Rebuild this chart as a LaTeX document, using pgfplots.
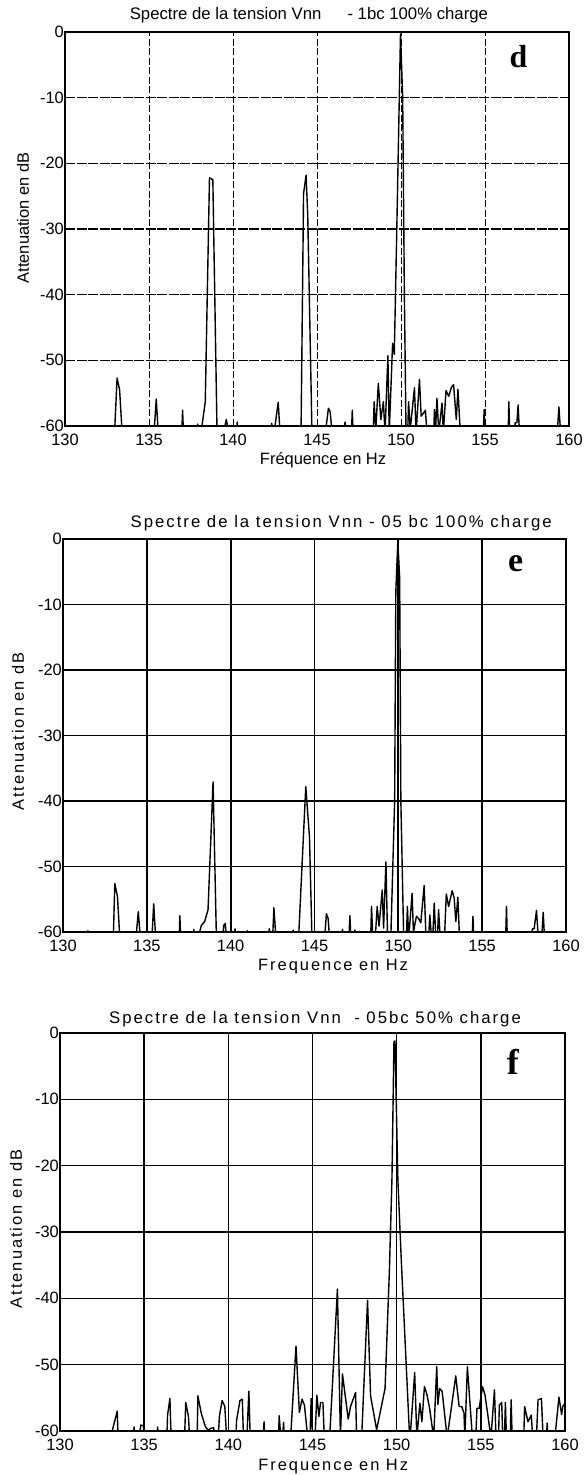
\documentclass[border=0pt]{standalone}
\usepackage{fontspec}
\setmainfont{Liberation Sans}
\newfontfamily\spaced[LetterSpace=12]{Liberation Sans}
\newfontfamily\timesf{Liberation Serif}
\usepackage{pgfplots}
\pgfplotsset{compat=1.18}

\pgfplotsset{
  spec/.style={
    scale only axis, xmin=130, xmax=160, ymin=-60, ymax=0,
    xtick={130,135,140,145,150,155,160}, ytick={-60,-50,-40,-30,-20,-10,0},
    xticklabels={130,135,140,145,150,155,160},
    yticklabels={-60,-50,-40,-30,-20,-10,0},
    major tick length=0pt,
    xmajorgrids, ymajorgrids,
    every axis title shift=0pt,
    tick label style={font=\fontsize{16.5}{18}\selectfont},
    xticklabel style={anchor=center, yshift=-14bp},
    yticklabel style={anchor=east, inner sep=1bp},
    title style={anchor=center},
    xlabel style={anchor=center},
    ylabel style={anchor=center, rotate=0},
  },
  sig/.style={black, line width=1.4bp, line join=round},
}

\begin{document}
\begin{tikzpicture}
\useasboundingbox (0,0) rectangle (586bp,1475bp);

% ---------------- panel d ----------------
\begin{axis}[spec,
  at={(65bp,1049bp)}, anchor=south west, width=504bp, height=394bp,
  axis line style={black, line width=1.5bp},
  x grid style={black, line width=0.7bp, dash pattern=on 7bp off 2.5bp},
  y grid style={black, line width=1.2bp, dash pattern=on 10bp off 1.5bp},
  title={Spectre de la tension Vnn \quad\ - 1bc 100\% charge},
  title style={font=\fontsize{16.8}{18}\selectfont, at={(axis description cs:0.484,1.043)}},
  xlabel={Fréquence en Hz},
  xlabel style={font=\fontsize{16.5}{18}\selectfont, at={(axis description cs:0.512,-0.086)}},
  ylabel={Attenuation en dB},
  ylabel style={font=\fontsize{16.5}{18}\selectfont, at={(axis description cs:-0.0833,0.528)}},
]
\addplot[sig] coordinates {
(130,-61)
(132.95,-61)(133.1,-52.7)(133.25,-54.5)(133.4,-61)
(135.3,-61)(135.43,-55.9)(135.55,-61)
(136.95,-61)(137.0,-57.6)(137.05,-61)
(137.85,-61)(137.9,-59.7)(137.95,-61)
(138.1,-61)(138.35,-56.3)(138.6,-22.2)(138.8,-22.5)(139.05,-61)
(139.45,-61)(139.6,-59)(139.75,-61)
(140.2,-61)(140.25,-59.4)(140.3,-61)
(142.25,-61)(142.3,-59.6)(142.45,-61)(142.69,-56.4)(142.8,-61)
(144.05,-61)(144.2,-24.6)(144.35,-21.8)(144.45,-28)(144.7,-61)
(145.5,-61)(145.68,-57.3)(145.78,-57.8)(145.9,-61)
(146.6,-61)(146.67,-59.4)(146.75,-61)
(147.05,-61)(147.1,-57.6)(147.15,-61)
(148.35,-61)(148.4,-56.3)(148.5,-60.5)(148.65,-53.5)(148.8,-59)(148.95,-56.3)(149.05,-61)
(149.22,-49.3)(149.3,-61)(149.5,-47.4)(149.6,-49.1)(149.75,-30)(149.97,-0.3)(150.1,-10)(150.2,-40)(150.3,-61)
(150.4,-61)(150.45,-56.3)(150.55,-60.5)(150.8,-54.2)(150.9,-61)(151.1,-52.9)(151.2,-58.5)(151.35,-58)(151.45,-57.6)(151.55,-61)
(151.95,-61)(151.99,-57.5)(152.05,-61)(152.14,-55.8)(152.25,-61)(152.44,-56.5)(152.52,-61)
(152.68,-54.6)(152.84,-55.5)(153.0,-54.1)(153.13,-53.7)(153.29,-59)(153.39,-54.4)(153.53,-61)
(154.9,-61)(154.95,-57.5)(155.0,-61)
(156.38,-61)(156.42,-56.3)(156.47,-61)
(156.75,-61)(156.8,-59.5)(156.9,-59.5)(156.97,-56.8)(157.05,-61)
(159.3,-61)(159.4,-57.1)(159.5,-61)(160,-61)
};
\node[font=\timesf\bfseries\fontsize{32}{32}\selectfont] at (axis cs:157,-3.8) {d};
\end{axis}

% ---------------- panel e ----------------
\begin{axis}[spec,
  at={(63bp,543bp)}, anchor=south west, width=503bp, height=393bp,
  axis line style={black, line width=2bp},
  grid style={black, line width=1.8bp},
  title={\spaced Spectre de la tension Vnn - 05 bc 100\% charge},
  title style={font=\fontsize{16.8}{18}\selectfont, at={(axis description cs:0.553,1.041)}},
  xlabel={\spaced Frequence en Hz},
  xlabel style={font=\fontsize{16.5}{18}\selectfont, at={(axis description cs:0.537,-0.089)}},
  ylabel={\spaced Attenuation en dB},
  ylabel style={font=\fontsize{16.5}{18}\selectfont, at={(axis description cs:-0.0895,0.51)}},
]
\addplot[sig] coordinates {
(130,-61)(131.45,-61)(131.48,-59.8)(131.52,-61)
(133.0,-61)(133.09,-52.6)(133.25,-54.6)(133.39,-61)
(134.35,-61)(134.49,-56.9)(134.62,-61)
(135.3,-61)(135.41,-55.7)(135.53,-61)
(136.93,-61)(136.97,-57.5)(137.02,-61)
(137.78,-61)(137.8,-59.6)(137.85,-61)
(138.05,-61)(138.25,-59)(138.45,-58.4)(138.65,-56.6)(138.95,-37.1)(139.15,-61)
(139.5,-61)(139.6,-58.9)(139.68,-58.7)(139.75,-61)
(140.22,-61)(140.26,-59.5)(140.3,-61)
(140.97,-61)(141.0,-59.8)(141.03,-61)
(142.27,-61)(142.3,-59.5)(142.4,-61)(142.5,-61)(142.58,-56.3)(142.7,-61)
(143.7,-61)(143.73,-59.7)(143.76,-61)
(144.05,-61)(144.48,-37.8)(144.7,-45.5)(144.85,-61)
(145.6,-61)(145.71,-57.2)(145.81,-57.9)(145.9,-61)
(146.62,-61)(146.67,-59.6)(146.72,-61)
(147.05,-61)(147.11,-57.5)(147.17,-61)
(147.38,-61)(147.41,-59.7)(147.45,-61)
(148.35,-61)(148.4,-56.1)(148.48,-61)(148.62,-61)(148.74,-56.1)(148.85,-59.1)(149.04,-53.6)(149.12,-59.4)(149.26,-49.3)(149.36,-61)
(149.55,-61)(149.78,-40)(149.85,-8)(149.97,-0.3)(150.08,-6)(150.15,-40)(150.32,-61)
(150.48,-61)(150.54,-56.1)(150.62,-61)(150.82,-54.1)(150.9,-60)(151.08,-57.6)(151.22,-58)(151.34,-58.6)(151.54,-52.9)(151.65,-61)
(151.8,-61)(151.88,-57.4)(151.98,-61)(152.05,-61)(152.14,-55.6)(152.24,-61)(152.33,-61)(152.4,-56.6)(152.5,-61)
(152.75,-61)(152.86,-54.2)(153.0,-56.1)(153.21,-53.7)(153.33,-54.8)(153.43,-58.4)(153.55,-54.7)(153.65,-61)
(154.4,-61)(154.45,-57.6)(154.5,-61)
(156.4,-61)(156.45,-56.1)(156.5,-61)
(157.9,-61)(158.0,-59.5)(158.1,-59.5)(158.24,-56.7)(158.35,-61)(158.55,-61)(158.64,-57.0)(158.72,-61)(160,-61)
};
\node[font=\timesf\bfseries\fontsize{34}{34}\selectfont] at (axis cs:157,-3.7) {e};
\end{axis}

% ---------------- panel f ----------------
\begin{axis}[spec,
  at={(60bp,44bp)}, anchor=south west, width=505bp, height=398bp,
  axis line style={black, line width=2bp},
  grid style={black, line width=1.5bp},
  title={\spaced Spectre de la tension Vnn \ - 05bc 50\% charge},
  title style={font=\fontsize{16.8}{18}\selectfont, at={(axis description cs:0.505,1.035)}},
  xlabel={\spaced Frequence en Hz},
  xlabel style={font=\fontsize{16.5}{18}\selectfont, at={(axis description cs:0.541,-0.0905)}},
  ylabel={\spaced Attenuation en dB},
  ylabel style={font=\fontsize{16.5}{18}\selectfont, at={(axis description cs:-0.087,0.5075)}},
]
\addplot[sig] coordinates {
(130,-61)(133.0,-61)(133.4,-57)(133.45,-61)
(134.35,-61)(134.4,-59.4)(134.45,-61)(134.7,-61)(134.8,-59.1)(134.95,-59.2)(135.0,-61)
(135.75,-61)(135.8,-59.4)(135.85,-61)
(136.35,-61)(136.39,-57.6)(136.53,-55.1)(136.6,-61)
(137.4,-61)(137.47,-55.7)(137.63,-57.8)(137.7,-61)
(138.15,-61)(138.19,-54.7)(138.39,-57.3)(138.63,-59.3)(138.8,-59.9)(138.95,-59.6)(139.13,-59.5)(139.2,-61)
(139.4,-61)(139.47,-57.8)(139.63,-55.4)(139.79,-56.3)(139.9,-61)
(140.45,-61)(140.49,-58.4)(140.69,-55.4)(140.83,-55.2)(140.9,-61)(141.1,-61)(141.22,-54.0)(141.3,-61)
(142.08,-61)(142.12,-58.6)(142.16,-61)
(142.98,-61)(143.02,-57.7)(143.12,-61)(143.22,-61)(143.28,-58.7)(143.33,-61)
(143.7,-61)(144.02,-47.2)(144.22,-57.2)(144.38,-55.2)(144.52,-56.1)(144.72,-61)
(144.85,-61)(144.92,-55.1)(145.0,-61)(145.15,-61)(145.26,-54.6)(145.38,-57.8)(145.48,-55.7)(145.62,-55.7)(145.7,-61)
(146.02,-61)(146.48,-38.6)(146.66,-61)(146.78,-51.4)(147.12,-58.2)(147.26,-56.3)(147.56,-54.2)(147.62,-61)
(147.92,-61)(148.27,-40.3)(148.45,-54.7)(148.81,-59.8)(149.31,-53.6)(149.57,-35.7)(149.72,-22)(149.84,-1.3)(149.9,-1.2)
(150.07,-22)(150.27,-34)(150.77,-61)
(150.8,-61)(151.07,-51.2)(151.2,-61)(151.38,-55.8)(151.5,-58.6)(151.65,-53.3)(151.8,-54.5)(151.95,-56.5)(152.2,-61)
(152.38,-50.3)(152.45,-56)(152.55,-53.6)(152.7,-54)(153.0,-61)
(153.51,-51.7)(153.71,-56.3)(153.86,-56.3)(154.0,-57.3)(154.05,-61)(154.2,-50.3)(154.5,-61)
(154.7,-61)(154.77,-56.6)(154.9,-56.6)(155.1,-53.3)(155.25,-54.6)(155.6,-61)(155.81,-53.8)(155.9,-61)
(156.05,-61)(156.1,-56.1)(156.24,-55.7)(156.3,-61)(156.4,-61)(156.46,-55.7)(156.52,-61)(156.75,-61)(156.8,-55.3)(156.86,-61)
(157.55,-61)(157.6,-56.3)(157.8,-58.6)(158.0,-57.6)(158.08,-61)(158.3,-61)(158.4,-55.3)(158.6,-55.1)(158.7,-61)
(158.9,-61)(158.94,-58.8)(158.98,-61)(159.4,-61)(159.64,-54.9)(159.8,-57.5)(159.87,-56.3)(160,-55.8)
};
\node[font=\timesf\bfseries\fontsize{36}{36}\selectfont] at (axis cs:156.9,-4.4) {f};
\end{axis}
\end{tikzpicture}
\end{document}
